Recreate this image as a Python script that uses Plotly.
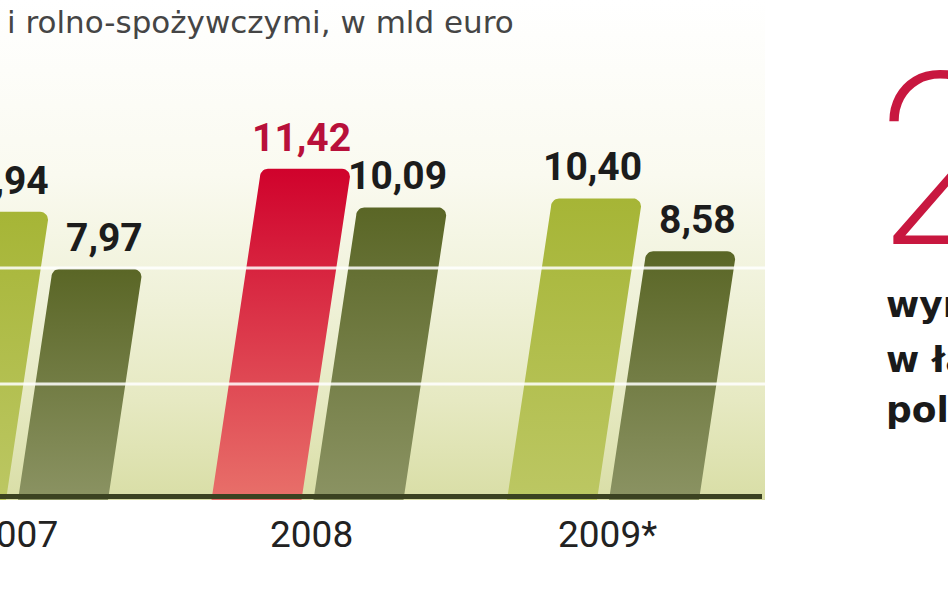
import numpy as np
import plotly.graph_objects as go

# ---------------- data ----------------
categories = ["2007", "2008", "2009*"]
series_a = [9.94, 11.42, 10.40]          # light green bars (2008 highlighted in red)
series_b = [7.97, 10.09, 8.58]           # dark green bars
labels_a = ["9,94", "11,42", "10,40"]
labels_b = ["7,97", "10,09", "8,58"]
highlight_a = [False, True, False]
grid_values = [4, 8]
title_text = "i rolno-spożywczymi, w mld euro"
side_big = "2"
side_lines = ["wyn", "w ła", "pols"]

# ---------------- geometry / style ----------------
W, H = 948, 593
PX_PER_UNIT = 29.0        # vertical pixels per value unit
ZERO_PX = 500             # pixel row of value 0
GROUP_PX = 295.5          # pixels between group centres
FIRST_GROUP_PX = 12       # pixel column of first group centre
PANEL_RIGHT_PX = 765
SLANT = 0.15              # horizontal px per vertical px
RADIUS = 8                # px

x_range = [-FIRST_GROUP_PX / GROUP_PX, (W - FIRST_GROUP_PX) / GROUP_PX]
y_range = [-(H - ZERO_PX) / PX_PER_UNIT, ZERO_PX / PX_PER_UNIT]
panel_right = (PANEL_RIGHT_PX - FIRST_GROUP_PX) / GROUP_PX

def gx(px):  # px -> x units
    return px / GROUP_PX

def gy(px):  # px -> y units
    return px / PX_PER_UNIT

slope = SLANT * PX_PER_UNIT / GROUP_PX   # x units per y unit

def bar_polygon(center, value, side):
    if side < 0:
        x0, x1 = center - gx(96), center - gx(6)
    else:
        x0, x1 = center + gx(6), center + gx(96)
    rx, ry = gx(RADIUS), gy(RADIUS)
    xs, ys = [x0, x1], [0, 0]
    cx, cy = x1 + slope * (value - ry) - rx, value - ry
    for a in np.linspace(0, np.pi / 2, 8):
        xs.append(cx + rx * np.cos(a)); ys.append(cy + ry * np.sin(a))
    cx, cy = x0 + slope * (value - ry) + rx, value - ry
    for a in np.linspace(np.pi / 2, np.pi, 8):
        xs.append(cx + rx * np.cos(a)); ys.append(cy + ry * np.sin(a))
    xs.append(x0); ys.append(0)
    return xs, ys, x1 + slope * value

LIGHT = [[0, "#bcc763"], [1, "#a6b536"]]
DARK = [[0, "#8b9363"], [1, "#5a6626"]]
RED = [[0, "#e8706a"], [1, "#d0022c"]]

fig = go.Figure()

# background panel gradient
fig.add_trace(go.Scatter(
    x=[x_range[0], panel_right, panel_right, x_range[0], x_range[0]],
    y=[0, 0, y_range[1], y_range[1], 0],
    mode="lines", fill="toself", line=dict(width=0, color="rgba(0,0,0,0)"),
    fillgradient=dict(type="vertical", colorscale=[
        [0, "#d9dea6"], [0.2, "#e6e9c2"], [0.4, "#eff1d8"], [0.65, "#fafaf0"], [1, "#ffffff"]]),
    hoverinfo="skip", showlegend=False))

annotations = []
for i, cat in enumerate(categories):
    for side, vals, labs, in ((-1, series_a, labels_a), (1, series_b, labels_b)):
        v = vals[i]
        xs, ys, top_right = bar_polygon(i, v, side)
        if side < 0:
            cs = RED if highlight_a[i] else LIGHT
        else:
            cs = DARK
        fig.add_trace(go.Scatter(
            x=xs, y=ys, mode="lines", fill="toself",
            line=dict(width=0, color="rgba(0,0,0,0)"),
            fillgradient=dict(type="vertical", colorscale=cs),
            hoverinfo="skip", showlegend=False, name=cat))
        color = "#b8103a" if (side < 0 and highlight_a[i]) else "#1c1c1c"
        annotations.append(dict(
            x=top_right + gx(2), y=v, xref="x", yref="y", text=labs[i],
            showarrow=False, xanchor="right", yanchor="middle", yshift=31,
            font=dict(family="Roboto", size=39, color=color, weight=700)))
    annotations.append(dict(
        x=i, y=0, xref="x", yref="y", text=cat, showarrow=False,
        xanchor="center", yanchor="middle", yshift=-34, xshift=4,
        font=dict(family="Roboto", size=37, color="#222222")))

def px_x(p):
    return p / W

def px_y(p):
    return 1 - p / H

annotations.append(dict(
    x=px_x(5), y=px_y(22), xref="paper", yref="paper", text=title_text,
    showarrow=False, xanchor="left", yanchor="middle",
    font=dict(family="DejaVu Sans", size=31, color="#454545")))
annotations.append(dict(
    x=px_x(874), y=px_y(161), xref="paper", yref="paper", text=side_big,
    showarrow=False, xanchor="left", yanchor="middle", height=200, valign="middle",
    font=dict(family="Roboto", size=242, color="#c8173f", weight=200)))
for line_text, cy in zip(side_lines, [304, 359, 409]):
    annotations.append(dict(
        x=px_x(884), y=px_y(cy), xref="paper", yref="paper", text=line_text,
        showarrow=False, xanchor="left", yanchor="middle",
        font=dict(family="DejaVu Sans", size=36, color="#1a1a1a", weight=700)))

shapes = []
for g in grid_values:
    shapes.append(dict(type="line", xref="x", yref="y", x0=x_range[0], x1=panel_right,
                       y0=g, y1=g, layer="above",
                       line=dict(color="rgba(255,255,255,0.85)", width=3)))
shapes.append(dict(type="line", xref="x", yref="y", x0=x_range[0], x1=gx(PANEL_RIGHT_PX - 3 - FIRST_GROUP_PX),
                   y0=gy(3.5), y1=gy(3.5), layer="above",
                   line=dict(color="#3b4221", width=5)))

fig.update_layout(
    width=W, height=H, margin=dict(l=0, r=0, t=0, b=0),
    paper_bgcolor="white", plot_bgcolor="white", showlegend=False,
    xaxis=dict(range=x_range, visible=False, fixedrange=True),
    yaxis=dict(range=y_range, visible=False, fixedrange=True),
    annotations=annotations, shapes=shapes)

fig.write_html("out.html", config={"displayModeBar": False},
               post_script="document.body.style.margin='0';")
